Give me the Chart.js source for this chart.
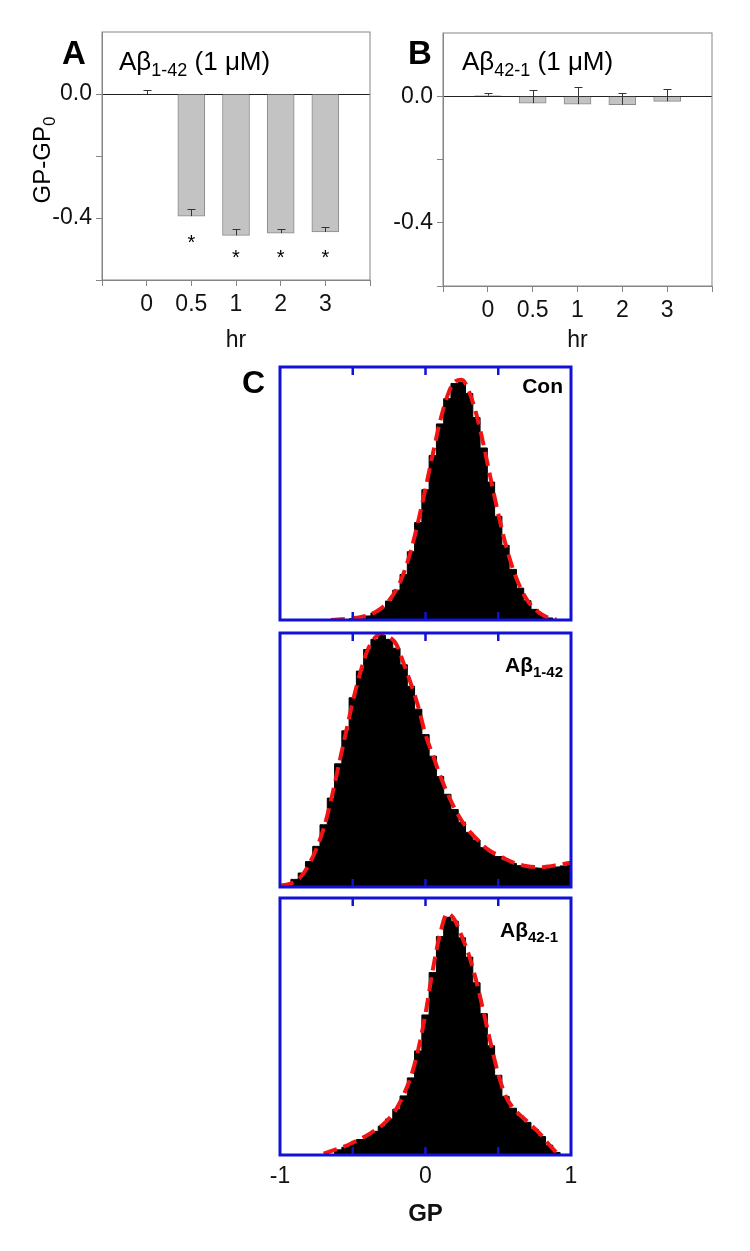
<!DOCTYPE html>
<html>
<head>
<meta charset="utf-8">
<title>GP shift panels</title>
<script src="https://cdn.jsdelivr.net/npm/chart.js@4.4.1/dist/chart.umd.min.js"></script>
<style>
  body { margin: 0; background: #fff; width: 750px; height: 1251px; position: relative; overflow: hidden; }
  canvas { position: absolute; }
</style>
</head>
<body>
<canvas id="chartA" width="380" height="360" style="left:0;top:0"></canvas>
<canvas id="chartB" width="380" height="366" style="left:341px;top:0"></canvas>
<canvas id="chartCon" width="351" height="273" style="left:230px;top:357px"></canvas>
<canvas id="chartFwd" width="311" height="274" style="left:270px;top:623px"></canvas>
<canvas id="chartRev" width="331" height="363" style="left:260px;top:888px"></canvas>
<script>
// panel A / B: GP-GP0 vs time
const hours = ['0', '0.5', '1', '2', '3'];
const fwdMean = [0.0, -0.394, -0.456, -0.449, -0.445];
const fwdErr = [0.012, 0.022, 0.019, 0.014, 0.017];
const fwdStars = [null, -0.466, -0.512, -0.512, -0.512];
const revMean = [0.002, -0.022, -0.025, -0.027, -0.016];
const revErr = [0.008, 0.041, 0.055, 0.037, 0.039];
const yTickValues = [0, -0.4];
const yTickText = ['0.0', '-0.4'];

// panel C: GP histograms (bin centres) and fitted curves
const gpBins = [-1, -0.95, -0.9, -0.85, -0.8, -0.75, -0.7, -0.65, -0.6, -0.55, -0.5,
  -0.45, -0.4, -0.35, -0.3, -0.25, -0.2, -0.15, -0.1, -0.05, 0,
  0.05, 0.1, 0.15, 0.2, 0.25, 0.3, 0.35, 0.4, 0.45, 0.5,
  0.55, 0.6, 0.65, 0.7, 0.75, 0.8, 0.85, 0.9, 0.95, 1];
const gpTickMarks = [-0.5, 0, 0.5];

const conHist = [0, 0, 0, 0, 0, 0, 0, 0, 0, 0.002, 0.005,
  0.01, 0.016, 0.028, 0.045, 0.075, 0.118, 0.18, 0.27, 0.385, 0.515,
  0.65, 0.775, 0.875, 0.935, 0.94, 0.895, 0.8, 0.68, 0.545, 0.41,
  0.295, 0.2, 0.126, 0.076, 0.042, 0.02, 0.008, 0.002, 0, 0];
const conFit = [null, null, null, null, null, null, null, 0.0, 0.002, 0.004, 0.007,
  0.011, 0.018, 0.03, 0.048, 0.078, 0.12, 0.185, 0.275, 0.39, 0.52,
  0.655, 0.785, 0.885, 0.942, 0.95, 0.902, 0.812, 0.69, 0.553, 0.42,
  0.3, 0.204, 0.13, 0.078, 0.044, 0.022, 0.008, 0.002, null, null];

const fwdHist = [0.005, 0.012, 0.03, 0.055, 0.1, 0.16, 0.245, 0.35, 0.485, 0.615, 0.745,
  0.85, 0.935, 0.975, 0.99, 0.975, 0.94, 0.875, 0.79, 0.7, 0.6,
  0.515, 0.435, 0.365, 0.305, 0.255, 0.215, 0.185, 0.155, 0.135, 0.12,
  0.105, 0.093, 0.084, 0.078, 0.075, 0.074, 0.076, 0.079, 0.083, 0.088];
const fwdFit = [0.005, 0.01, 0.02, 0.045, 0.09, 0.15, 0.23, 0.34, 0.47, 0.6, 0.73,
  0.84, 0.93, 0.98, 1.0, 0.985, 0.955, 0.88, 0.8, 0.71, 0.6,
  0.52, 0.44, 0.37, 0.31, 0.26, 0.22, 0.19, 0.16, 0.14, 0.125,
  0.11, 0.097, 0.088, 0.082, 0.079, 0.078, 0.081, 0.086, 0.091, 0.096];

const revHist = [0, 0, 0, 0, 0, 0, 0, 0, 0.02, 0.03, 0.045,
  0.06, 0.075, 0.092, 0.112, 0.14, 0.178, 0.23, 0.3, 0.405, 0.545,
  0.71, 0.85, 0.925, 0.91, 0.845, 0.77, 0.67, 0.55, 0.425, 0.31,
  0.228, 0.182, 0.152, 0.127, 0.1, 0.072, 0.038, 0.01, 0, 0];
const revFit = [null, null, null, null, null, null, 0.005, 0.015, 0.025, 0.035, 0.048,
  0.062, 0.077, 0.095, 0.115, 0.142, 0.18, 0.235, 0.305, 0.41, 0.55,
  0.72, 0.86, 0.94, 0.915, 0.85, 0.775, 0.675, 0.555, 0.43, 0.315,
  0.23, 0.185, 0.155, 0.13, 0.103, 0.075, 0.04, 0.01, null, null];

const FONT = '"Liberation Sans", Arial, sans-serif';
Chart.defaults.font.family = FONT;
Chart.defaults.color = '#111';

// text with sub-scripts, drawn on the chart canvas
function drawRich(ctx, item) {
  ctx.save();
  ctx.translate(item.x, item.y);
  if (item.rotate) ctx.rotate(item.rotate);
  ctx.fillStyle = '#000';
  ctx.textBaseline = 'alphabetic';
  ctx.textAlign = 'left';
  const fonts = item.parts.map(p => `${p.bold ? 'bold ' : ''}${p.size}px ${FONT}`);
  const widths = item.parts.map((p, i) => { ctx.font = fonts[i]; return ctx.measureText(p.text).width; });
  const total = widths.reduce((a, b) => a + b, 0);
  let x = item.align === 'right' ? -total : item.align === 'center' ? -total / 2 : 0;
  item.parts.forEach((p, i) => {
    ctx.font = fonts[i];
    ctx.fillText(p.text, x, p.dy || 0);
    x += widths[i];
  });
  ctx.restore();
}

function textPlugin(items) {
  return { id: 'panelText', afterDraw(chart) { items.forEach(it => drawRich(chart.ctx, it)); } };
}

function framePlugin(color, width, tickValues) {
  return {
    id: 'frame',
    afterDatasetsDraw(chart) {
      const { ctx, chartArea: a, scales: { x } } = chart;
      ctx.save();
      ctx.strokeStyle = color;
      ctx.lineWidth = width;
      ctx.strokeRect(a.left, a.top, a.right - a.left, a.bottom - a.top);
      ctx.lineWidth = width - 0.5;
      tickValues.forEach(v => {
        const px = x.getPixelForValue(v);
        ctx.beginPath();
        ctx.moveTo(px, a.bottom); ctx.lineTo(px, a.bottom - 8);
        ctx.moveTo(px, a.top); ctx.lineTo(px, a.top + 8);
        ctx.stroke();
      });
      ctx.restore();
    }
  };
}

// one-sided error bars + significance stars
function errorPlugin(errs, stars) {
  return {
    id: 'errors',
    afterDatasetsDraw(chart) {
      const { ctx, scales: { x, y } } = chart;
      const values = chart.data.datasets[0].data;
      ctx.save();
      ctx.strokeStyle = '#333';
      ctx.lineWidth = 1;
      chart.getDatasetMeta(0).data.forEach((bar, i) => {
        const px = Math.round(bar.x) + 0.5;
        const y0 = y.getPixelForValue(values[i].y);
        const y1 = Math.round(y.getPixelForValue(values[i].y + errs[i])) + 0.5;
        ctx.beginPath();
        ctx.moveTo(px, y0); ctx.lineTo(px, y1);
        ctx.moveTo(px - 4, y1); ctx.lineTo(px + 4, y1);
        ctx.stroke();
      });
      ctx.fillStyle = '#000';
      ctx.font = `20px ${FONT}`;
      ctx.textAlign = 'center';
      stars.forEach((s, i) => {
        if (s === null) return;
        ctx.fillText('*', x.getPixelForValue(i), y.getPixelForValue(s) + 11);
      });
      ctx.restore();
    }
  };
}

function yLabel(v) {
  const i = yTickValues.findIndex(t => Math.abs(t - v) < 1e-6);
  return i < 0 ? '' : yTickText[i];
}

function barPanel(id, values, errs, stars, texts, sz) {
  const ax = '#858585';
  return new Chart(document.getElementById(id), {
    type: 'bar',
    data: {
      datasets: [{
        data: values.map((v, i) => ({ x: i, y: v })),
        backgroundColor: '#c3c3c3',
        borderColor: '#8a8a8a',
        borderWidth: 1,
        barThickness: 27
      }]
    },
    options: {
      responsive: false,
      animation: false,
      devicePixelRatio: 1,
      layout: { padding: { left: 0, top: sz.top, right: sz.right, bottom: 0 } },
      plugins: { legend: { display: false }, tooltip: { enabled: false } },
      scales: {
        x: {
          type: 'linear', min: -1, max: 5, offset: false,
          afterFit: s => { s.height = sz.xAxis; },
          ticks: { stepSize: 1, autoSkip: false, maxRotation: 0, padding: sz.tickPad, font: { size: 23 },
                   callback: v => hours[v] ?? '' },
          grid: { offset: false, drawOnChartArea: false, tickLength: 6, color: ax },
          border: { color: ax },
          title: { display: true, text: 'hr', font: { size: 23 }, padding: { top: 0, bottom: sz.titlePad } }
        },
        y: {
          min: -0.6, max: 0.2,
          afterFit: s => { s.width = 102; },
          ticks: { stepSize: 0.2, padding: 4, font: { size: 23 }, callback: v => yLabel(v) },
          grid: {
            tickLength: 6,
            color: c => Math.abs(c.tick.value) < 1e-9 ? '#222' : 'rgba(0,0,0,0)',
            tickColor: c => c.tick.value > 0.1 ? 'rgba(0,0,0,0)' : ax
          },
          border: { color: ax }
        }
      }
    },
    plugins: [framePlugin(ax, 1, []), errorPlugin(errs, stars), textPlugin(texts)]
  });
}

function histPanel(id, hist, fit, texts, pad, showAxis) {
  return new Chart(document.getElementById(id), {
    type: 'line',
    data: {
      datasets: [
        {
          data: gpBins.map((x, i) => ({ x, y: fit[i] })),
          borderColor: '#f01414', borderWidth: 4, borderDash: [14, 7],
          pointRadius: 0, cubicInterpolationMode: 'monotone', fill: false, order: 0
        },
        {
          data: gpBins.map((x, i) => ({ x, y: hist[i] })),
          stepped: 'middle', borderColor: '#000', backgroundColor: '#000',
          borderWidth: 1, pointRadius: 0, fill: 'origin', order: 1
        }
      ]
    },
    options: {
      responsive: false,
      animation: false,
      devicePixelRatio: 1,
      layout: { padding: pad },
      plugins: { legend: { display: false }, tooltip: { enabled: false } },
      scales: {
        x: {
          type: 'linear', min: -1, max: 1, display: showAxis,
          afterFit: s => { if (showAxis) s.height = 96; },
          ticks: { stepSize: 0.5, padding: 8, maxRotation: 0, autoSkip: false, font: { size: 23 },
                   callback: v => Math.abs(v - Math.round(v)) < 1e-9 ? String(Math.round(v)) : '' },
          grid: { display: false, drawTicks: false },
          border: { display: false },
          title: { display: true, text: 'GP', font: { size: 24, weight: 'bold' }, padding: { top: 0, bottom: 22 } }
        },
        y: { min: 0, max: 1, display: false }
      }
    },
    plugins: [framePlugin('#1212d6', 3, gpTickMarks), textPlugin(texts)]
  });
}

barPanel('chartA', fwdMean, fwdErr, fwdStars, [
  { x: 62, y: 64, parts: [{ text: 'A', size: 33, bold: true }] },
  { x: 119, y: 70, parts: [{ text: 'Aβ', size: 26 }, { text: '1-42', size: 18, dy: 6 }, { text: ' (1 μM)', size: 26 }] },
  { x: 50, y: 160, rotate: -Math.PI / 2, align: 'center',
    parts: [{ text: 'GP-GP', size: 24 }, { text: '0', size: 17, dy: 5 }] }
], { top: 32, right: 10, xAxis: 80, tickPad: 5, titlePad: 6 });

barPanel('chartB', revMean, revErr, [], [
  { x: 67, y: 64, parts: [{ text: 'B', size: 33, bold: true }] },
  { x: 121, y: 70, parts: [{ text: 'Aβ', size: 26 }, { text: '42-1', size: 18, dy: 6 }, { text: ' (1 μM)', size: 26 }] }
], { top: 33, right: 9, xAxis: 80, tickPad: 5, titlePad: 12 });

histPanel('chartCon', conHist, conFit, [
  { x: 12, y: 36, parts: [{ text: 'C', size: 32, bold: true }] },
  { x: 333, y: 36, align: 'right', parts: [{ text: 'Con', size: 21, bold: true }] }
], { left: 50, right: 10, top: 10, bottom: 10 }, false);

histPanel('chartFwd', fwdHist, fwdFit, [
  { x: 293, y: 49, align: 'right', parts: [{ text: 'Aβ', size: 21, bold: true }, { text: '1-42', size: 15, bold: true, dy: 5 }] }
], { left: 10, right: 10, top: 10, bottom: 10 }, false);

histPanel('chartRev', revHist, revFit, [
  { x: 298, y: 49, align: 'right', parts: [{ text: 'Aβ', size: 21, bold: true }, { text: '42-1', size: 15, bold: true, dy: 5 }] }
], { left: 20, right: 20, top: 10, bottom: 0 }, true);
</script>
</body>
</html>
